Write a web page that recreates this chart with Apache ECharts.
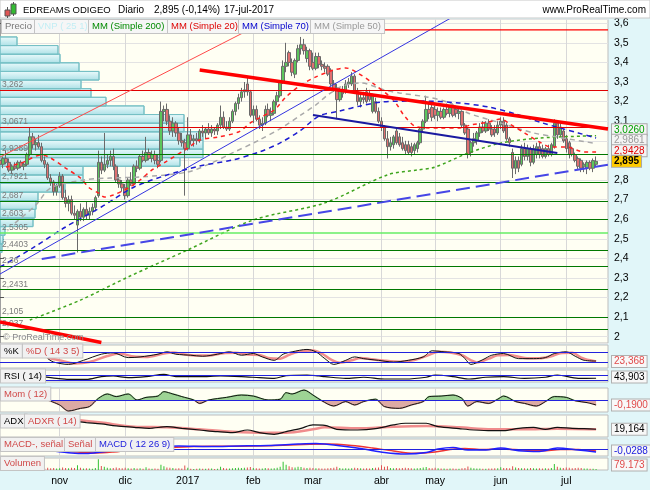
<!DOCTYPE html>
<html><head><meta charset="utf-8">
<script src="https://cdn.jsdelivr.net/npm/echarts@6/dist/echarts.min.js"></script>
<style>html,body{margin:0;padding:0;background:#e1f6f9}#c{width:650px;height:490px}</style>
</head><body><div id="c"></div>
<script>
const FONT = '"Liberation Sans", Arial, sans-serif';
// ---------- categories (trading days) ----------
const firstDay = '2016-10-04';
const nCategories = 205;
const holidays = ['2016-12-26','2017-04-14','2017-04-17','2017-05-01'];
const monthAbbr = ['ene','feb','mar','abr','may','jun','jul','ago','sep','oct','nov','dic'];
function buildDates(){const out=[];const d=new Date(firstDay+'T00:00:00Z');while(out.length<nCategories){const wd=d.getUTCDay();const s=d.toISOString().slice(0,10);if(wd!==0&&wd!==6&&holidays.indexOf(s)<0)out.push(s);d.setUTCDate(d.getUTCDate()+1);}return out;}
const dates = buildDates();
const isMonthStart = dates.map((d,i)=> i>0 && d.slice(5,7)!==dates[i-1].slice(5,7));
function monthLabel(d){const m=+d.slice(5,7)-1;return m===0?d.slice(0,4):monthAbbr[m];}

// ---------- price data ----------
const opens = [2.90,2.88,2.91,2.89,2.85,2.87,2.86,2.89,2.87,2.88,
2.93,3.02,2.98,2.99,2.97,2.90,2.88,2.81,2.79,2.74,
2.77,2.82,2.71,2.68,2.70,2.63,2.57,2.64,2.61,2.65,
2.62,2.64,2.66,2.72,2.89,2.85,2.88,2.90,2.92,2.87,
2.80,2.78,2.76,2.72,2.80,2.78,2.87,2.86,2.92,2.90,
2.94,2.91,2.93,2.90,2.90,3.15,3.16,3.10,3.05,3.09,
3.04,3.00,2.99,2.96,3.03,3.00,3.01,3.00,3.05,3.04,
3.06,3.04,3.06,3.05,3.08,3.12,3.07,3.06,3.10,3.15,
3.19,3.22,3.25,3.29,3.25,3.13,3.16,3.11,3.08,3.09,
3.16,3.13,3.14,3.20,3.23,3.30,3.38,3.45,3.40,3.34,
3.41,3.47,3.49,3.42,3.46,3.40,3.37,3.43,3.39,3.38,
3.38,3.36,3.29,3.27,3.21,3.24,3.25,3.29,3.29,3.33,
3.25,3.20,3.22,3.25,3.24,3.15,3.20,3.15,3.10,3.07,
3.01,2.97,2.98,3.05,3.02,2.99,2.98,2.98,2.97,2.95,
2.96,2.99,3.06,3.10,3.16,3.17,3.16,3.13,3.15,3.12,
3.16,3.14,3.17,3.16,3.14,3.15,3.08,3.06,2.94,2.99,
3.00,3.04,3.07,3.05,3.09,3.06,3.06,3.04,3.08,3.10,
3.08,3.01,2.94,2.86,2.90,2.88,2.96,2.92,2.96,2.89,
2.93,2.97,2.96,2.92,2.96,2.93,2.97,3.09,3.03,3.05,
3.01,2.99,2.96,2.93,2.91,2.90,2.87,2.86,2.89,2.86,2.88];
const highs = [2.93,2.92,2.95,2.91,2.88,2.89,2.90,2.90,2.89,2.94,
3.07,3.04,3.01,3.03,2.99,2.92,2.89,2.83,2.80,2.78,
2.84,2.83,2.75,2.72,2.72,2.67,2.65,2.68,2.66,2.69,
2.66,2.68,2.72,2.95,2.92,3.04,2.93,2.95,2.96,2.88,
2.83,2.80,2.78,2.81,2.84,2.88,2.90,2.93,2.95,3.02,
2.96,2.95,2.95,2.93,3.20,3.18,3.19,3.13,3.12,3.10,
3.07,3.04,3.01,3.12,3.06,3.03,3.04,3.06,3.08,3.07,
3.09,3.08,3.07,3.09,3.18,3.15,3.10,3.12,3.16,3.20,
3.24,3.27,3.30,3.33,3.26,3.18,3.18,3.13,3.12,3.18,
3.19,3.17,3.21,3.25,3.31,3.41,3.50,3.46,3.42,3.42,
3.49,3.53,3.52,3.48,3.47,3.45,3.45,3.45,3.41,3.40,
3.39,3.37,3.31,3.29,3.27,3.28,3.31,3.32,3.35,3.34,
3.27,3.24,3.25,3.27,3.26,3.24,3.22,3.17,3.12,3.08,
3.05,3.02,3.03,3.07,3.04,3.02,3.00,3.00,2.99,2.99,
3.00,3.07,3.11,3.23,3.19,3.19,3.18,3.17,3.17,3.17,
3.19,3.18,3.19,3.18,3.17,3.16,3.09,3.07,3.00,3.04,
3.05,3.09,3.10,3.10,3.11,3.08,3.08,3.10,3.12,3.12,
3.09,3.02,2.96,2.92,2.92,2.98,2.99,2.98,2.97,2.98,
2.99,2.99,2.98,2.97,2.98,2.99,3.11,3.10,3.09,3.06,
3.03,3.00,2.97,2.94,2.92,2.91,2.89,2.90,2.90,2.91,2.92];
const lows = [2.87,2.86,2.88,2.84,2.83,2.85,2.85,2.86,2.85,2.87,
2.92,2.96,2.95,2.96,2.89,2.86,2.80,2.77,2.72,2.72,
2.76,2.70,2.66,2.64,2.62,2.60,2.43,2.59,2.59,2.60,
2.60,2.62,2.64,2.71,2.83,2.84,2.86,2.87,2.85,2.79,
2.76,2.74,2.70,2.71,2.77,2.77,2.84,2.85,2.89,2.89,
2.90,2.89,2.88,2.86,2.89,3.10,3.08,3.03,3.02,3.02,
2.98,2.97,2.72,2.95,2.98,2.97,2.98,2.99,3.02,3.01,
3.03,3.02,3.03,3.03,3.06,3.06,3.05,3.05,3.09,3.13,
3.16,3.20,3.22,3.23,3.12,3.09,3.10,3.06,3.05,3.08,
3.12,3.10,3.13,3.18,3.22,3.29,3.35,3.38,3.33,3.32,
3.40,3.44,3.44,3.40,3.36,3.36,3.36,3.37,3.36,3.35,
3.33,3.28,3.25,3.11,3.20,3.22,3.24,3.27,3.28,3.24,
3.18,3.17,3.19,3.19,3.20,3.14,3.14,3.09,3.05,3.00,
2.91,2.95,2.96,2.98,2.97,2.95,2.93,2.93,2.92,2.93,
2.94,2.98,3.04,3.09,3.11,3.10,3.11,3.10,3.11,3.11,
3.13,3.12,3.12,3.12,3.11,3.07,3.03,2.91,2.92,2.97,
2.98,3.02,3.04,3.04,3.05,3.02,3.02,3.03,3.06,3.04,
3.00,2.97,2.81,2.83,2.84,2.87,2.90,2.90,2.87,2.88,
2.91,2.91,2.91,2.91,2.92,2.92,2.96,3.01,3.02,2.99,
2.94,2.91,2.92,2.89,2.85,2.84,2.84,2.83,2.85,2.84,2.87];
const closes = [2.88,2.91,2.89,2.85,2.87,2.86,2.89,2.87,2.88,2.93,
3.02,2.98,2.99,2.97,2.90,2.88,2.81,2.79,2.74,2.77,
2.82,2.71,2.68,2.70,2.63,2.62,2.64,2.61,2.65,2.62,
2.64,2.66,2.71,2.89,2.85,2.88,2.90,2.92,2.87,2.80,
2.78,2.76,2.72,2.80,2.78,2.87,2.86,2.92,2.90,2.94,
2.91,2.93,2.90,2.88,3.15,3.16,3.10,3.05,3.09,3.04,
3.00,2.99,2.96,3.03,3.00,3.01,3.00,3.05,3.04,3.06,
3.04,3.06,3.05,3.08,3.12,3.07,3.06,3.10,3.15,3.19,
3.22,3.25,3.26,3.25,3.13,3.16,3.11,3.08,3.09,3.16,
3.13,3.14,3.20,3.23,3.30,3.38,3.40,3.40,3.35,3.41,
3.47,3.49,3.46,3.46,3.38,3.37,3.43,3.39,3.38,3.37,
3.34,3.29,3.26,3.21,3.26,3.25,3.29,3.30,3.33,3.25,
3.20,3.22,3.21,3.20,3.21,3.23,3.15,3.10,3.07,3.01,
2.97,2.99,3.02,2.99,2.98,2.96,2.95,2.94,2.94,2.98,
2.99,3.06,3.10,3.16,3.14,3.12,3.13,3.15,3.12,3.16,
3.14,3.17,3.13,3.14,3.15,3.08,3.04,2.93,2.99,3.01,
3.04,3.07,3.05,3.09,3.06,3.03,3.04,3.08,3.10,3.05,
3.01,2.99,2.86,2.90,2.86,2.96,2.92,2.96,2.89,2.96,
2.97,2.93,2.92,2.96,2.93,2.98,3.09,3.03,3.07,3.00,
2.96,2.93,2.93,2.90,2.87,2.86,2.88,2.89,2.86,2.899,2.895];
// volume, thousands of shares
const volumes = [90,70,80,60,75,65,80,70,60,120,250,140,90,100,150,110,180,130,160,120,
140,200,160,130,170,150,380,180,120,140,110,100,150,850,320,250,180,140,160,190,
150,130,170,140,120,160,110,130,100,220,120,90,110,100,420,300,200,180,150,120,
140,110,350,180,100,80,90,110,100,90,120,110,80,100,260,150,110,120,140,160,
170,150,180,200,230,160,140,120,110,150,130,120,140,180,250,650,420,300,220,200,
260,240,180,160,170,150,140,130,120,110,140,160,180,260,150,120,130,110,140,170,
160,140,120,130,110,150,180,200,380,250,300,160,140,150,130,150,170,160,140,120,
130,160,200,240,150,140,180,130,120,110,100,120,110,100,90,140,160,280,170,130,
120,110,100,90,110,120,130,140,220,150,160,140,300,200,150,130,140,120,150,130,
120,140,110,130,120,150,480,250,180,160,200,170,140,150,180,160,120,110,100,90,79.173];

// ---------- moving averages: [day index, value] ----------
const ma200 = [[10,2.085],[27,2.187],[43,2.305],[63,2.443],[85,2.596],[109,2.683],[130,2.826],[140,2.851],[146,2.866],[157,2.937],[168,2.988],[181,3.014],[200,3.026]];
const ma20 = [[2,2.866],[7,2.886],[14,2.928],[17,2.912],[22,2.861],[27,2.810],[30,2.759],[33,2.734],[35,2.713],[38,2.723],[43,2.759],[47,2.800],[51,2.851],[55,2.887],[63,2.963],[67,3.004],[73,3.019],[80,3.045],[84,3.091],[87,3.117],[92,3.157],[96,3.224],[101,3.285],[106,3.326],[112,3.361],[116,3.372],[120,3.346],[125,3.295],[132,3.208],[136,3.121],[140,3.070],[148,3.065],[154,3.065],[158,3.081],[164,3.096],[168,3.111],[171,3.086],[176,3.040],[181,2.994],[185,2.968],[190,2.968],[196,2.943],[200,2.9428]];
const ma70 = [[0,2.356],[11,2.453],[22,2.560],[34,2.662],[45,2.764],[56,2.825],[67,2.871],[78,2.902],[87,2.943],[94,2.989],[101,3.055],[107,3.126],[114,3.152],[121,3.178],[128,3.198],[141,3.203],[154,3.193],[164,3.172],[173,3.137],[182,3.091],[194,3.040],[200,3.014]];
const ma50 = [[5,2.58],[12,2.672],[17,2.759],[28,2.800],[37,2.810],[47,2.815],[63,2.841],[71,2.887],[78,2.938],[87,3.004],[95,3.071],[101,3.132],[106,3.183],[110,3.234],[115,3.280],[121,3.295],[129,3.259],[134,3.244],[143,3.224],[150,3.198],[157,3.142],[168,3.091],[179,3.040],[187,3.019],[200,2.9861]];

// ---------- drawn trend lines: [day index, price] ----------
const trendThinRed = [[0,2.917],[92,3.632]];
const trendThinBlue = [[0,2.320],[152,3.633]];
const trendThickRed = [[67,3.361],[204,3.060]];
const trendThickRedLow = [[0,2.075],[34,1.971]];
const channelBlue = [[105,3.132],[187,2.938]];
const supportBlue = [[14,2.397],[204,2.878]];
const resistanceTop = [[128,3.566],[204,3.566]];

// ---------- horizontal levels ----------
const levelValues = [3.262,3.0671,2.9289,2.7921,2.687,2.603,2.5305,2.4403,2.36,2.2431,2.105,2.037];
const levelLabels = ['3,262','3,0671','2,9289','2,7921','2,687','2,603','2,5305','2,4403','2,36','2,2431','2,105','2,037'];
const levelColors = ['#e00000','#e00000','#007800','#007800','#007800','#007800','#66ee66','#007800','#007800','#007800','#007800','#007800'];

// ---------- volume profile (VNP 25) ----------
const vnpLow = 2.43, vnpStep = 0.044;
const vnpVolume = [2,3,5,33,35,36,38,65,83,83,180,203,203,203,184,184,144,106,91,81,99,79,60,58,17];

// ---------- indicators: [day index, value] ----------
const stochK = [[16,40],[18,20],[23,6],[28,30],[34,66],[38,74],[43,46],[47,50],[53,66],[56,80],[59,66],[64,60],[68,54],[73,66],[77,80],[81,60],[85,70],[88,50],[92,30],[95,66],[98,80],[103,94],[106,80],[109,40],[112,6],[116,30],[119,50],[122,40],[127,30],[132,20],[137,30],[142,50],[145,86],[149,80],[154,70],[156,40],[158,6],[162,34],[165,60],[169,70],[174,40],[179,40],[183,46],[186,70],[190,80],[193,54],[196,30],[200,26]];
const stochD = [[16,45],[20,30],[25,12],[30,20],[36,55],[40,70],[45,52],[49,50],[55,70],[58,76],[62,64],[66,58],[70,58],[75,72],[79,74],[83,64],[87,62],[90,44],[94,40],[97,62],[100,80],[105,88],[108,70],[111,35],[114,16],[118,30],[121,44],[124,38],[129,28],[134,22],[139,32],[144,62],[147,80],[151,76],[155,60],[158,30],[160,18],[164,40],[167,60],[171,62],[176,44],[181,42],[185,54],[188,72],[192,74],[195,46],[198,30],[200,23.368]];
const rsi = [[14,57],[19,43],[23,35],[29,35],[34,57],[38,62],[43,49],[49,57],[55,75],[59,57],[67,57],[74,62],[81,57],[87,49],[92,43],[96,65],[103,70],[107,62],[109,57],[116,43],[122,52],[129,38],[136,38],[143,52],[146,70],[152,57],[157,38],[163,52],[169,57],[176,43],[183,52],[187,70],[194,43],[200,43.903]];
const mom = [[16,0],[20,-0.19],[23,-0.42],[27,-0.32],[30,-0.25],[33,0.06],[36,0.23],[39,0.13],[43,0.23],[46,0],[49,0.1],[53,0.15],[55,0.32],[58,0.23],[61,0.13],[65,0],[67,-0.13],[70,0],[76,0.1],[81,0.19],[85,0.15],[90,0],[94,0.03],[96,0.28],[98,0.23],[102,0.38],[105,0.19],[108,-0.03],[112,-0.23],[116,-0.06],[119,-0.19],[122,-0.06],[126,0.03],[129,-0.25],[134,-0.32],[138,-0.19],[142,-0.06],[144,0.13],[148,0.15],[152,0.19],[155,0.06],[157,-0.23],[160,-0.06],[164,-0.13],[167,0.03],[169,0.15],[173,-0.06],[176,-0.13],[180,-0.23],[183,-0.06],[186,0.13],[190,0.1],[193,-0.03],[197,-0.1],[200,-0.19]];
const adx = [[26,32.5],[29,30.8],[34,28.4],[39,24.9],[45,22.6],[50,20.8],[56,23.7],[61,20.8],[67,17.9],[73,15],[78,13.3],[83,17.9],[87,13.3],[92,10.4],[96,15],[101,20.8],[105,26.7],[109,26],[113,19.1],[120,17.9],[126,20.2],[132,26.7],[136,29.6],[143,29.6],[147,23.7],[154,20.2],[159,17.9],[165,16.7],[169,16.7],[174,20.8],[179,22.6],[183,19.1],[187,22.6],[192,20.8],[196,20.2],[200,19.164]];
const adxr = [[26,35.4],[34,30.8],[45,23.7],[56,22.6],[67,19.1],[78,15],[90,13.3],[96,13.3],[105,19.1],[109,22.6],[120,20.8],[132,23.7],[143,24.9],[154,22.6],[165,19.1],[176,19.1],[187,20.2],[200,19.1]];
const macd = [[18,-0.02],[24,-0.04],[29,-0.045],[34,-0.03],[40,-0.01],[50,0.01],[60,0.03],[70,0.025],[80,0.03],[90,0.035],[100,0.05],[106,0.056],[109,0.05],[116,0.025],[122,0],[129,-0.035],[136,-0.05],[143,-0.035],[147,0],[152,0.015],[157,-0.01],[163,-0.01],[168,0.01],[174,-0.017],[181,-0.024],[187,0.01],[194,-0.01],[200,-0.0288]];
const macdSignal = [[18,-0.01],[26,-0.03],[32,-0.04],[38,-0.03],[45,-0.01],[55,0.01],[65,0.025],[75,0.027],[85,0.03],[95,0.038],[104,0.048],[110,0.05],[118,0.035],[125,0.01],[132,-0.02],[139,-0.042],[146,-0.03],[151,-0.005],[156,0.005],[162,-0.005],[168,0],[175,-0.01],[182,-0.018],[188,-0.005],[194,-0.005],[200,-0.02]];

// ---------- layout ----------
const gridBoxes = [[19.5,323.5],[345,23],[370,12],[388,24],[415,22],[439,17],[458,12]];
const grids = gridBoxes.map(b=>({left:0,right:42,top:b[0],height:b[1],show:true,backgroundColor:'#fffff3',borderColor:'#bdbdbd',borderWidth:1}));
const subRanges = [null,[-15,120],[14,110],[-0.46,0.46],[5.7,44],[-0.07,0.1],[0,950]];

const xAxes = gridBoxes.map((b,i)=>({type:'category',gridIndex:i,data:dates,boundaryGap:false,
  axisLine:{show:false},axisTick:{show:false},
  axisLabel:{show:i===6,interval:(k)=>isMonthStart[k],formatter:(v)=>monthLabel(v),color:'#000',fontSize:10.5,fontFamily:FONT,margin:6},
  splitLine:{show:true,interval:(k)=>isMonthStart[k],lineStyle:{color:'#d8d8d8',width:1}}}));
xAxes.push({type:'value',gridIndex:0,position:'top',min:0,max:608,show:false});

const fmtComma = v=>String(Math.round(v*1000)/1000).replace('.',',');
const yAxes = [{type:'value',gridIndex:0,position:'right',min:1.968,max:3.619,splitNumber:16,scale:true,
  axisLine:{show:true,lineStyle:{color:'#a0a0a0'}},axisTick:{show:true,length:4,lineStyle:{color:'#555'}},
  axisLabel:{color:'#000',fontSize:10.5,fontFamily:FONT,margin:6,showMinLabel:false,showMaxLabel:false,formatter:fmtComma},
  splitLine:{show:true,lineStyle:{color:'#e3e3e3'}}}];
for(let i=1;i<7;i++) yAxes.push({type:'value',gridIndex:i,position:'right',min:subRanges[i][0],max:subRanges[i][1],
  axisLine:{show:false},axisTick:{show:false},axisLabel:{show:false},splitLine:{show:false}});

function line(data,color,width,type,z,xi,yi,smooth){return {type:'line',xAxisIndex:xi||0,yAxisIndex:yi||0,data,symbol:'none',smooth:smooth||0,z:z,silent:true,lineStyle:{color,width,type:type||'solid'}};}
function hLines(vals){return {silent:true,symbol:['none','none'],label:{show:false},lineStyle:{color:'#2222dd',width:1.2,type:'solid'},data:vals.map(v=>({yAxis:v}))};}

const series = [];
// volume profile
series.push({type:'custom',xAxisIndex:7,yAxisIndex:0,z:1,silent:true,
  data:vnpVolume.map((v,k)=>[v,vnpLow+k*vnpStep,vnpLow+(k+1)*vnpStep]),
  encode:{x:0,y:1},
  renderItem:(params,api)=>{const p0=api.coord([0,api.value(1)]);const p1=api.coord([api.value(0),api.value(2)]);
    return {type:'rect',shape:{x:p0[0],y:p1[1],width:p1[0]-p0[0],height:p0[1]-p1[1]},
      style:{fill:{type:'linear',x:0,y:0,x2:0,y2:1,colorStops:[{offset:0,color:'#ecfbfc'},{offset:1,color:'#ace0e6'}]},stroke:'#76c0c5',lineWidth:1}};}});
// candles + horizontal levels
series.push({type:'candlestick',xAxisIndex:0,yAxisIndex:0,z:3,barWidth:3,silent:true,
  data:opens.map((o,i)=>[o,closes[i],lows[i],highs[i]]),
  itemStyle:{color:'#5cc65c',color0:'#e07070',borderColor:'#6a6a6a',borderColor0:'#6a6a6a',borderWidth:1},
  markLine:{silent:true,symbol:['none','none'],
    label:{show:true,position:'insideStartTop',color:'#7a7a7a',fontSize:8.5,fontFamily:FONT,distance:[2,1],formatter:p=>p.name},
    data:levelValues.map((v,i)=>({name:levelLabels[i],yAxis:v,lineStyle:{color:levelColors[i],width:i===6?1.5:1.2,type:'solid'}}))}});
// moving averages
series.push(line(ma200,'#3fa51f',1.5,[3,3],4,0,0,0.3));
series.push(line(ma50,'#a9a9a9',1.5,[5,4],4,0,0,0.3));
series.push(line(ma70,'#1d1dd0',1.5,[5,4],4,0,0,0.3));
series.push(line(ma20,'#ff2020',1.5,[4,4],4,0,0,0.3));
// trend lines
series.push(line(trendThinRed,'#ff4a4a',1,'solid',5));
series.push(line(trendThinBlue,'#3434e0',1,'solid',5));
series.push(line(channelBlue,'#1a1aa0',2,'solid',5));
series.push(line(supportBlue,'#4646e6',2,[14,6],5));
series.push(line(resistanceTop,'#ff0000',1.2,'solid',5));
series.push(line(trendThickRed,'#ff0000',3.5,'solid',6));
series.push(line(trendThickRedLow,'#ff0000',3.5,'solid',6));
// stochastic
const sD = line(stochD,'#f08c8c',2.5,'solid',3,1,1,0.3); sD.markLine=hLines([20,80]); series.push(sD);
series.push(line(stochK,'#111',1,'solid',4,1,1,0.3));
// RSI
const sR = line(rsi,'#111',1.2,'solid',4,2,2,0.3); sR.markLine=hLines([30,70]); series.push(sR);
// momentum (area split at zero with a global gradient)
const momZero = subRanges[3][1]/(subRanges[3][1]-subRanges[3][0]);
const momFill = {type:'linear',global:true,x:0,y:gridBoxes[3][0],x2:0,y2:gridBoxes[3][0]+gridBoxes[3][1],
  colorStops:[{offset:0,color:'#93cf8a'},{offset:momZero,color:'#93cf8a'},{offset:momZero,color:'#d9a19b'},{offset:1,color:'#d9a19b'}]};
const mA = line(mom,momFill,1.5,'solid',3,3,3,0.3); mA.areaStyle={opacity:0.9,color:momFill}; series.push(mA);
const mL = line(mom,'#111',1,'solid',4,3,3,0.3); mL.markLine=hLines([0]); series.push(mL);
// ADX
series.push(line(adxr,'#f08c8c',2.5,'solid',3,4,4,0.3));
series.push(line(adx,'#111',1.2,'solid',4,4,4,0.3));
// MACD
const mS = line(macdSignal,'#ee3333',1.5,'solid',3,5,5,0.3); mS.markLine=hLines([0]); series.push(mS);
series.push(line(macd,'#2020ff',1.5,'solid',4,5,5,0.3));
// volume
series.push({type:'bar',xAxisIndex:6,yAxisIndex:6,barWidth:1,silent:true,
  data:volumes.map((v,i)=>({value:v,itemStyle:{color:closes[i]>=opens[i]?'#33c233':'#e05050'}}))});

const option = {animation:false,backgroundColor:'#e1f6f9',grid:grids,xAxis:xAxes,yAxis:yAxes,series};

const chart = echarts.init(document.getElementById('c'),null,{width:650,height:490});
chart.setOption(option);

// ---------- texts ----------
function box(x,y,text,color,o){o=o||{};return {type:'text',x:x,y:y,z:100,silent:true,style:{text:text,fill:color,
  font:(o.bold?'bold ':'')+(o.size||9.5)+'px '+FONT,backgroundColor:o.bg||'#f1f1f1',borderColor:o.border||'#c4c4c4',borderWidth:1,
  padding:o.pad||[2,3,1,3],align:'left',textAlign:'left',verticalAlign:'middle',textVerticalAlign:'middle'}};}
function txt(x,y,text,color,size,align,bold){return {type:'text',x:x,y:y,z:100,silent:true,style:{text:text,fill:color,font:(bold?'bold ':'')+size+'px '+FONT,align:align||'left',textAlign:align||'left',verticalAlign:'middle',textVerticalAlign:'middle'}};}

const g = [];
g.push({type:'rect',z:90,silent:true,shape:{x:0,y:0,width:650,height:18},style:{fill:'#ffffff',stroke:'#c8c8c8',lineWidth:1}});
g.push({type:'line',z:95,shape:{x1:7.5,y1:7,x2:7.5,y2:18},style:{stroke:'#555',lineWidth:1}});
g.push({type:'rect',z:96,shape:{x:5,y:10,width:5,height:6},style:{fill:'#e05555',stroke:'#555',lineWidth:1}});
g.push({type:'line',z:95,shape:{x1:13.5,y1:2,x2:13.5,y2:16},style:{stroke:'#555',lineWidth:1}});
g.push({type:'rect',z:96,shape:{x:11,y:4,width:5,height:10},style:{fill:'#33bb33',stroke:'#555',lineWidth:1}});
g.push(txt(23,10,'EDREAMS ODIGEO','#000',9.5));
g.push(txt(118,10,'Diario','#000',10));
g.push(txt(154,10,'2,895 (-0,14%)','#000',10));
g.push(txt(224,10,'17-jul-2017','#000',10));
g.push(txt(646,10,'www.ProRealTime.com','#000',10,'right'));
const legendItems = [['Precio','#777',2],['VNP ( 25 1)','#c3eef4',35],['MM (Simple 200)','#008a00',89],['MM (Simple 20)','#dd0000',168],['MM (Simple 70)','#0000cc',239],['MM (Simple 50)','#999999',311]];
legendItems.forEach(l=>g.push(box(l[2],26.5,l[0],l[1],{bg:'#f6f6f6'})));
g.push(txt(3,338,'\u00a9 ProRealTime.com','#8a8a8a',9));
const panelLabels = [[1,351,'%K','#000'],[23,351,'%D ( 14 3 5)','#d04848'],[1,376,'RSI ( 14)','#000'],[1,394,'Mom ( 12)','#d04848'],
 [1,421,'ADX','#000'],[25,421,'ADXR ( 14)','#d04848'],[1,444.5,'MACD-, se\u00f1al','#d04848'],[65,444.5,'Se\u00f1al','#d04848'],[96,444.5,'MACD ( 12 26 9)','#2020dd'],[1,463.5,'Volumen','#d04848']];
panelLabels.forEach(p=>g.push(box(p[0],p[1],p[2],p[3])));

const last = a=>a[a.length-1][1];
const mainBoxes = [
 {v:closes[closes.length-1],t:'2,895',c:'#000',bg:'#ffcc00',bold:true},
 {v:last(ma20),t:last(ma20).toFixed(4).replace('.',','),c:'#e00000'},
 {v:last(ma50),t:last(ma50).toFixed(4).replace('.',','),c:'#9a9a9a'},
 {v:last(ma200),t:last(ma200).toFixed(4).replace('.',','),c:'#00a000'}];
let prevY = null;
const placed = mainBoxes.map(b=>{let y=chart.convertToPixel({yAxisIndex:0},b.v);if(prevY!==null)y=Math.min(y,prevY-10.5);prevY=y;return Object.assign({y},b);});
placed.reverse().forEach(b=>g.push(box(612,b.y,b.t,b.c,{size:10,bold:b.bold,bg:b.bg||'#f4f4f4',border:'#a8a8a8',pad:[1,2,0,2]})));
const fmt3 = v=>v.toFixed(3).replace('.',',');
const fmt4 = v=>v.toFixed(4).replace('.',',');
const panelBoxes = [[1,last(stochD),fmt3(last(stochD)),'#e04a4a'],[2,last(rsi),fmt3(last(rsi)),'#000'],[3,last(mom),fmt4(last(mom)),'#e04a4a'],
 [4,last(adx),fmt3(last(adx)),'#000'],[5,last(macd),fmt4(last(macd)),'#2020dd'],[6,volumes[volumes.length-1],String(Math.round(volumes[volumes.length-1]*1000)).replace(/\B(?=(\d{3})+(?!\d))/g,'.'),'#e04a4a']];
panelBoxes.forEach(p=>{const gb=gridBoxes[p[0]];let y=chart.convertToPixel({yAxisIndex:p[0]},p[1]);y=Math.max(gb[0]+6,Math.min(gb[0]+gb[1]-5,y));
  g.push(box(612,y,p[2],p[3],{size:10,bg:'#f8f8f8',border:'#b0b0b0',pad:[1,2,0,2]}));});
chart.setOption({graphic:g});
</script></body></html>
